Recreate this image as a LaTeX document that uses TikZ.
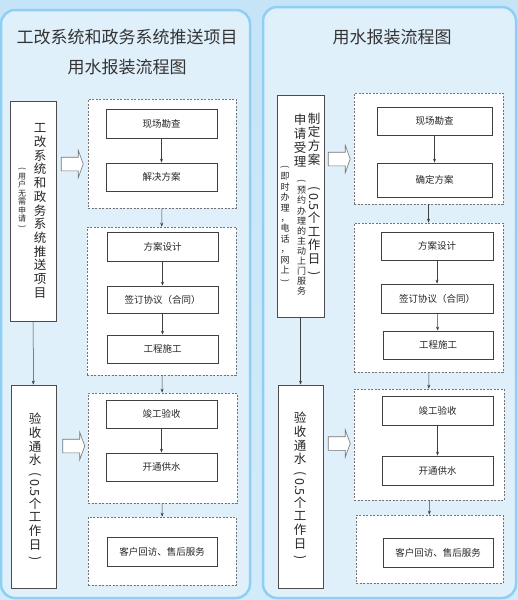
\documentclass[tikz,border=0pt]{standalone}
\usepackage{fontspec}
\setmainfont{Noto Sans CJK SC}
\usepackage{graphicx}
\usetikzlibrary{arrows.meta,shapes.arrows}
\definecolor{skytop}{HTML}{C6E4F8}
\definecolor{skybottom}{HTML}{D2EBFA}
\definecolor{panelfill}{HTML}{E0F0FB}
\definecolor{panelline}{HTML}{8DD0F4}
\newcommand{\halfday}{\rotatebox[origin=c]{-90}{0.5}}
\newcommand{\vopen}{\rotatebox[origin=c]{-90}{(}}
\newcommand{\vclose}{\rotatebox[origin=c]{-90}{)}}
\begin{document}
\begin{tikzpicture}[x=1pt,y=-1pt,
    panel/.style={draw=panelline, line width=2.5pt, fill=panelfill, rounded corners=14pt},
    stage/.style={draw=black!70, fill=white, line width=0.7pt, inner sep=0pt},
    vtext/.style={inner sep=0pt, align=center, text=black!85, font=\fontsize{12.5}{13.7}\selectfont},
    vsmall/.style={inner sep=0pt, align=center, text=black!85, font=\fontsize{9}{10.2}\selectfont},
    group/.style={draw=black!55, dash pattern=on 2pt off 1.5pt, line width=0.6pt, fill=white, inner sep=0pt},
    proc/.style={draw=black!75, fill=white, line width=0.7pt, inner sep=0pt, text=black!85, font=\fontsize{9.5}{11}\selectfont},
    bigarrow/.style={single arrow, draw=black!55, fill=white, line width=0.6pt, inner sep=6.5pt,
      minimum height=22pt, single arrow head extend=7pt, single arrow tip angle=140},
    flow/.style={-{Stealth[length=4pt,width=3pt]}, black!75, line width=0.5pt},
    title/.style={text=black!80, font=\fontsize{17}{20}\selectfont}]
  \useasboundingbox (0,0) rectangle (518,600);
  \fill[top color=skytop, bottom color=skybottom] (0,0) rectangle (518,600);
  \draw[panel] (1,10) rectangle (250,598);
  \draw[panel] (263,7) rectangle (516,598);

  % left panel
  \node[title] (ltitle) at (127,37) {工改系统和政务系统推送项目};
  \node[title] (ltitle2) at (127,67) {用水报装流程图};

  \node[stage, minimum width=46pt, minimum height=220pt] (lstart) at (33,211) {};
  \node[vtext] (lstarttext) at (40,211) {工\\改\\系\\统\\和\\政\\务\\系\\统\\推\\送\\项\\目};
  \node[vsmall, font=\fontsize{8}{8.4}\selectfont] (lstartnote) at (22,198.5) {\vopen\\用\\户\\无\\需\\申\\请\\\vclose};
  \node[stage, minimum width=45pt, minimum height=203pt] (lend) at (33.5,486.5) {};
  \node[vtext] (lendtext) at (35,488) {验\\收\\通\\水\\\vopen\\\halfday\\个\\工\\作\\日\\\vclose};

  \node[bigarrow] (larrow1) at (71,164) {};
  \node[bigarrow] (larrow2) at (72.5,446) {};

  \node[group, minimum width=148pt, minimum height=109pt] (lg1) at (162,153.5) {};
  \node[group, minimum width=149pt, minimum height=148pt] (lg2) at (161.5,301) {};
  \node[group, minimum width=149pt, minimum height=110pt] (lg3) at (162.5,448) {};
  \node[group, minimum width=148pt, minimum height=68pt] (lg4) at (162,551) {};

  \node[proc, minimum width=111pt, minimum height=29pt] (lp1) at (161.5,123.5) {现场勘查};
  \node[proc, minimum width=111pt, minimum height=28pt] (lp2) at (161.5,177) {解决方案};
  \node[proc, minimum width=111pt, minimum height=29pt] (lp3) at (162.5,246.5) {方案设计};
  \node[proc, minimum width=111pt, minimum height=27pt] (lp4) at (162.5,299.5) {签订协议（合同）};
  \node[proc, minimum width=111pt, minimum height=28pt] (lp5) at (162.5,349) {工程施工};
  \node[proc, minimum width=111pt, minimum height=28pt] (lp6) at (161.5,414) {竣工验收};
  \node[proc, minimum width=111pt, minimum height=28pt] (lp7) at (161.5,467) {开通供水};
  \node[proc, minimum width=110pt, minimum height=29pt] (lp8) at (162,551.5) {客户回访、售后服务};

  \draw[flow] (lstart) -- (lend);
  \draw[flow] (lp1) -- (lp2);
  \draw[flow] (lp3) -- (lp4);
  \draw[flow] (lp4) -- (lp5);
  \draw[flow] (lp6) -- (lp7);
  \draw[flow] (lg1) -- (lg2);
  \draw[flow] (lg2) -- (lg3);
  \draw[flow] (lg3) -- (lg4);

  % right panel
  \node[title] (rtitle) at (392,37) {用水报装流程图};

  \node[stage, minimum width=47pt, minimum height=222pt] (rstart) at (300.5,206) {};
  \node[vtext] (rplan) at (314,139) {制\\定\\方\\案};
  \node[vtext] (rplanday) at (314,232) {\vopen\\\halfday\\个\\工\\作\\日\\\vclose};
  \node[vtext] (raccept) at (300,140.5) {申\\请\\受\\理};
  \node[vsmall, font=\fontsize{9}{10.1}\selectfont] (rvisit) at (301.5,237.5) {\vopen\\预\\约\\办\\理\\的\\主\\动\\上\\门\\服\\务};
  \node[vsmall, font=\fontsize{9}{10.4}\selectfont] (ronline) at (285,224.5) {\vopen\\即\\时\\办\\理\\，\\电\\话\\，\\网\\上\\\vclose};
  \node[stage, minimum width=45pt, minimum height=203pt] (rend) at (300.5,486.5) {};
  \node[vtext] (rendtext) at (300,487) {验\\收\\通\\水\\\vopen\\\halfday\\个\\工\\作\\日\\\vclose};

  \node[bigarrow] (rarrow1) at (338,159) {};
  \node[bigarrow] (rarrow2) at (338,443.5) {};

  \node[group, minimum width=149pt, minimum height=111pt] (rg1) at (428.5,148.5) {};
  \node[group, minimum width=149pt, minimum height=149pt] (rg2) at (428.5,297.5) {};
  \node[group, minimum width=150pt, minimum height=111pt] (rg3) at (429,444.5) {};
  \node[group, minimum width=147pt, minimum height=68pt] (rg4) at (429.5,549) {};

  \node[proc, minimum width=115pt, minimum height=28pt] (rp1) at (434.5,121) {现场勘查};
  \node[proc, minimum width=115pt, minimum height=34pt] (rp2) at (434.5,180) {确定方案};
  \node[proc, minimum width=112pt, minimum height=28pt] (rp3) at (437,246) {方案设计};
  \node[proc, minimum width=112pt, minimum height=29pt] (rp4) at (437,298.5) {签订协议（合同）};
  \node[proc, minimum width=110pt, minimum height=28pt] (rp5) at (438,345) {工程施工};
  \node[proc, minimum width=111pt, minimum height=29pt] (rp6) at (437.5,410.5) {竣工验收};
  \node[proc, minimum width=111pt, minimum height=29pt] (rp7) at (437.5,470.5) {开通供水};
  \node[proc, minimum width=110pt, minimum height=29pt] (rp8) at (438,552.5) {客户回访、售后服务};

  \draw[flow] (rstart) -- (rend);
  \draw[flow] (rp1) -- (rp2);
  \draw[flow] (rp3) -- (rp4);
  \draw[flow] (rp4) -- (rp5);
  \draw[flow] (rp6) -- (rp7);
  \draw[flow] (rg1) -- (rg2);
  \draw[flow] (rg2) -- (rg3);
  \draw[flow] (rg3) -- (rg4);
\end{tikzpicture}
\end{document}
